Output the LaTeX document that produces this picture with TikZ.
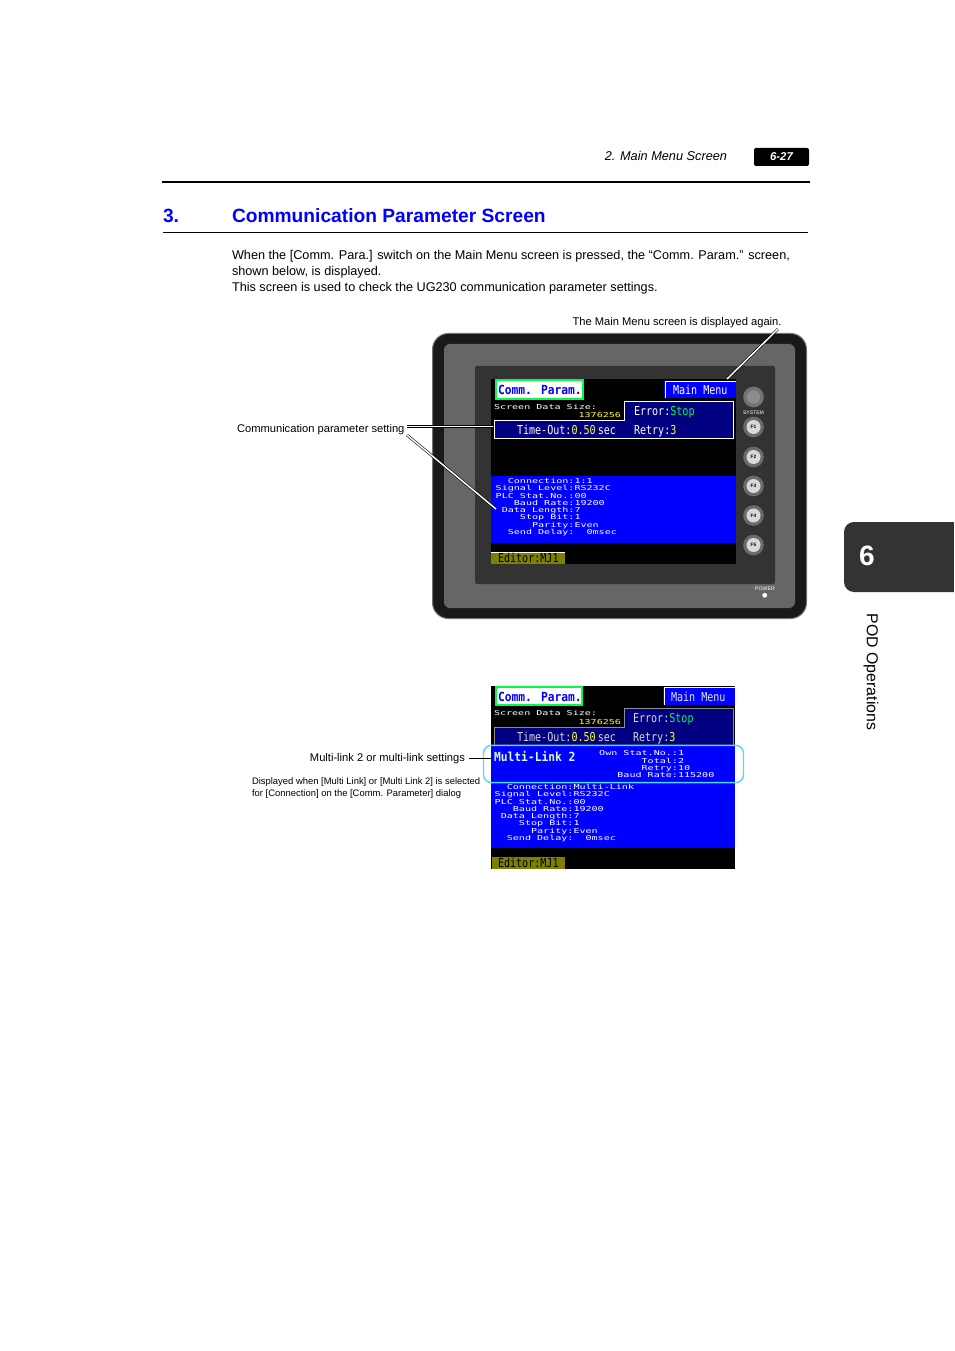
\documentclass[tikz,border=0pt]{standalone}
\usepackage{fontspec}
\setmainfont{Liberation Sans}
\newfontfamily\lcdS[FakeStretch=1.48]{DejaVu Sans Mono}
\newfontfamily\lcdB[FakeStretch=.82]{DejaVu Sans Mono}
\newfontfamily\lcdH[FakeStretch=.9]{DejaVu Sans Mono Bold}
\newcommand{\fs}[1]{\fontsize{#1}{#1}\selectfont}
\definecolor{tabgrey}{HTML}{333333}
\definecolor{pureblue}{HTML}{0000FF}
\definecolor{navyp}{HTML}{000080}
\definecolor{oliv}{HTML}{808000}
\definecolor{lcdgreen}{HTML}{00FF44}
\definecolor{lcdyellow}{HTML}{FFFF33}
\definecolor{cyanring}{HTML}{55DDEE}
\tikzset{
  x=0.75pt,y=-0.75pt,
  t/.style={inner sep=0pt,outer sep=0pt,anchor=base west},
  tr/.style={inner sep=0pt,outer sep=0pt,anchor=base east},
  body/.style={t,font=\fs{9.51}},
  note/.style={font=\fs{8.37}},
  small/.style={font=\fs{7.08}},
  lead/.style={draw=black,line width=0.45pt,double=white,double distance=1.1pt},
  small lcd/.style={font=\lcdS\fs{5.1},text=white},
  big lcd/.style={font=\lcdB\fs{9.2},text=white},
  head lcd/.style={font=\lcdH\fs{9.4},text=pureblue},
  btn/.style={circle,inner sep=0pt,minimum size=15.5pt,fill=black!58},
}
\begin{document}
\begin{tikzpicture}
\useasboundingbox (0,0) rectangle (954,1351);
\fill[white] (0,0) rectangle (954,1351);
% running header
\node[tr,font=\itshape\fs{9.55}] (hd) at (727,160.5) {2. Main Menu Screen};
\node[fill=black,rounded corners=1.5pt,minimum width=41.25pt,minimum height=13.5pt,inner sep=0pt,text=white,font=\bfseries\itshape\fs{8.5}] (pg) at (781.5,157) {6-27};
\draw[line width=1.5pt] (162,182) -- (810,182);
\draw[line width=0.5pt] (163,232) -- (808,232);
% title
\node[t,font=\bfseries\fs{14.4},text=pureblue] (n3) at (163,223) {3.};
\node[t,font=\bfseries\fs{14.4},text=pureblue] (title) at (232,223) {Communication Parameter Screen};
% paragraph
\node[body] (p1) at (232,259.5) {When the [Comm. Para.] switch on the Main Menu screen is pressed, the “Comm. Param.” screen,};
\node[body] (p2) at (232,275.5) {shown below, is displayed.};
\node[body] (p3) at (232,291.5) {This screen is used to check the UG230 communication parameter settings.};
% side tab
\fill[tabgrey,rounded corners=7.5pt] (844,522) rectangle (975,592);
\fill[white] (954,515) rectangle (985,600);
\node[font=\bfseries\fs{21},text=white,inner sep=0pt] (tabn) at (867,555.5) {6};
\node[rotate=-90,font=\fs{11.9},inner sep=0pt] (tabt) at (871,672) {POD Operations};
% device
\draw[draw=black!55,fill=black!90,line width=0.75pt,rounded corners=12pt] (432.5,333.5) rectangle (806.5,618.5);
\fill[black!60,rounded corners=4.5pt] (444,344) rectangle (795,608);
\fill[tabgrey,rounded corners=1.5pt] (475,366) rectangle (775,584);
\fill[black] (491,379) rectangle (736,564);
% buttons
\node[btn,fill=black!55] (bs) at (753.5,397) {};
\node[circle,fill=black!45,minimum size=10pt,inner sep=0pt] (bsi) at (753.5,397) {};
\node[inner sep=0pt,font=\fs{3.8},text=white] (bsl) at (753.5,412.5) {SYSTEM};
\foreach \yy/\lab in {427/F1,457/F2,486/F3,515.5/F4,545/F5}{
  \node[btn] (o\lab) at (753.5,\yy) {};
  \node[circle,fill=black!15,minimum size=10.5pt,inner sep=0pt,font=\bfseries\fs{3.6}] (i\lab) at (753.5,\yy) {\lab};
}
\node[inner sep=0pt,font=\fs{3.9},text=white] (pw) at (765,589) {POWER};
\node[circle,fill=white,minimum size=3.6pt,inner sep=0pt] (pwd) at (764.7,595.3) {};
% first screen
\node[draw=lcdgreen,line width=1.5pt,fill=white,minimum width=65pt,minimum height=14pt,inner sep=0pt] (c1box) at (539.5,389.5) {};
\node[t,head lcd] (c1) at (498,394.5) {Comm. Param.};
\fill[pureblue] (664,381) rectangle (736,398);
\draw[white,line width=0.75pt] (665.5,398) -- (665.5,381.5) -- (736,381.5);
\node[t,big lcd] (m1) at (673,394) {Main Menu};
\node[t,small lcd] (sd1) at (494,409.5) {Screen Data Size:};
\node[tr,small lcd,text=lcdyellow] (sz1) at (621,417) {1376256};
\draw[fill=navyp,draw=white,line width=0.75pt] (624.5,420) -- (624.5,401.5) -- (733.5,401.5) -- (733.5,438) -- (494,438) -- (494,420) -- cycle;
\node[t,big lcd] (e1) at (634,415) {Error:\textcolor{lcdgreen}{Stop}};
\node[t,big lcd] (to1) at (517,434) {Time-Out:\textcolor{lcdyellow}{0.50}\,sec};
\node[t,big lcd] (r1) at (634,434) {Retry:\textcolor{lcdyellow}{3}};
\fill[pureblue] (491,476) rectangle (736,543);
\foreach \i/\yy/\a/\b in {1/483/Connection/1:1,2/490/Signal Level/RS232C,3/498/PLC Stat.No./00,4/505/Baud Rate/19200,5/512/Data Length/7,6/519/Stop Bit/1,7/527/Parity/Even,8/534/Send Delay/\ \ 0msec}{
  \node[tr,small lcd] (la\i) at (574.5,\yy) {\a:};
  \node[t,small lcd] (va\i) at (574.5,\yy) {\b};
}
\fill[oliv] (491,552) rectangle (565,564);
\draw[white,line width=0.5pt] (491,552) -- (565,552);
\node[t,big lcd,text=black] (ed1) at (498,562) {Editor:MJ1};
% second screen
\fill[black] (491,686) rectangle (735,869);
\node[draw=lcdgreen,line width=1.5pt,fill=white,minimum width=65pt,minimum height=14pt,inner sep=0pt] (c2box) at (539,696) {};
\node[t,head lcd] (c2) at (498,701) {Comm. Param.};
\fill[pureblue] (663,687) rectangle (735,705);
\draw[white,line width=0.75pt] (664.5,705) -- (664.5,687.5) -- (735,687.5);
\node[t,big lcd,text=black!10] (m2) at (671,701) {Main Menu};
\node[t,small lcd] (sd2) at (494,715.5) {Screen Data Size:};
\node[tr,small lcd,text=lcdyellow] (sz2) at (621,724) {1376256};
\draw[fill=navyp,draw=black!45,line width=0.75pt] (624.5,727) -- (624.5,708.5) -- (733,708.5) -- (733,745) -- (494,745) -- (494,727) -- cycle;
\node[t,big lcd,text=black!15] (e2) at (633,722) {Error:\textcolor{lcdgreen}{Stop}};
\node[t,big lcd,text=black!15] (to2) at (517,741) {Time-Out:\textcolor{lcdyellow}{0.50}\,sec};
\node[t,big lcd,text=black!15] (r2) at (633,741) {Retry:\textcolor{lcdyellow}{3}};
\fill[pureblue] (491,745) rectangle (735,848);
\node[t,font=\lcdH\fs{9.4},text=green!15] (ml) at (494,761.5) {Multi-Link 2};
\foreach \i/\yy/\a/\b in {1/755.5/Own Stat.No./1,2/763/Total/2,3/770/Retry/10,4/777.5/Baud Rate/115200}{
  \node[tr,small lcd] (lc\i) at (678,\yy) {\a:};
  \node[t,small lcd] (vc\i) at (678,\yy) {\b};
}
\foreach \i/\yy/\a/\b in {1/789/Connection/Multi-Link,2/796.5/Signal Level/RS232C,3/804/PLC Stat.No./00,4/811/Baud Rate/19200,5/818/Data Length/7,6/825/Stop Bit/1,7/833/Parity/Even,8/840/Send Delay/\ \ 0msec}{
  \node[tr,small lcd] (lb\i) at (573.5,\yy) {\a:};
  \node[t,small lcd] (vb\i) at (573.5,\yy) {\b};
}
\fill[oliv] (492,857) rectangle (565,869);
\node[t,big lcd,text=black] (ed2) at (498,867) {Editor:MJ1};
\node[draw=cyanring,line width=1.1pt,rounded corners=6pt,minimum width=195pt,minimum height=28pt,inner sep=0pt] (ring) at (613.5,764) {};
% labels and leaders
\node[t,note] (ann1) at (572.5,325.3) {The Main Menu screen is displayed again.};
\node[t,note] (ann2) at (237,432) {Communication parameter setting};
\node[tr,note] (ann3) at (465,761) {Multi-link 2 or multi-link settings};
\node[t,small] (ann4) at (252,784) {Displayed when [Multi Link] or [Multi Link 2] is selected};
\node[t,small] (ann5) at (252,796) {for [Connection] on the [Comm. Parameter] dialog};
\coordinate (a1s) at (778,329);
\coordinate (a1e) at (727,379);
\coordinate (a2s) at (407,426.5);
\coordinate (a2e) at (493,426.5);
\coordinate (a3s) at (407,435);
\coordinate (a3e) at (496,509);
\coordinate (a4s) at (469,758);
\coordinate (a4e) at (491,758);
\draw[lead] (a1s) -- (a1e);
\draw[lead] (a2s) -- (a2e);
\draw[lead] (a3s) -- (a3e);
\draw[line width=0.6pt] (a4s) -- (a4e);
\end{tikzpicture}
\end{document}
